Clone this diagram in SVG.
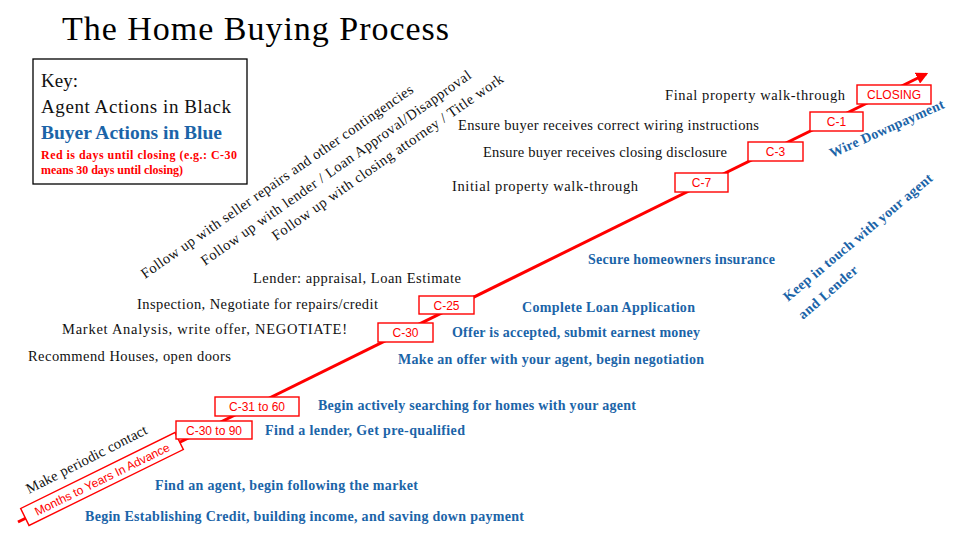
<svg xmlns="http://www.w3.org/2000/svg" width="960" height="540" viewBox="0 0 960 540">
<defs>
<marker id="arr" viewBox="0 0 10 10" refX="8" refY="5" markerWidth="4" markerHeight="4" orient="auto" markerUnits="strokeWidth">
<path d="M0,0 L10,5 L0,10 z" fill="#ff0000"/>
</marker>
</defs>
<style>
text{font-family:"Liberation Serif","Times New Roman",serif}
.ag{font-size:14.5px;fill:#111}
.by{font-size:14px;font-weight:bold;fill:#1b64a8}
.box{fill:#ffffff;stroke:#ff0000;stroke-width:1.4}
.bl{font-family:"Liberation Sans",Arial,sans-serif;font-size:12px;fill:#ff0000;text-anchor:middle}
</style>
<rect width="960" height="540" fill="#ffffff"/>
<text x="62" y="40" font-size="34" fill="#000" textLength="387">The Home Buying Process</text>

<g id="key">
<rect x="33" y="59" width="214" height="125" fill="#fff" stroke="#000" stroke-width="1.3"/>
<text x="41" y="87" font-size="19" fill="#111">Key:</text>
<text x="41" y="113" font-size="19" fill="#111" textLength="190">Agent Actions in Black</text>
<text x="41" y="139" font-size="19.5" font-weight="bold" fill="#1b64a8" textLength="181">Buyer Actions in Blue</text>
<text x="41" y="159" font-size="12" font-weight="bold" fill="#ff0000" textLength="196">Red is days until closing (e.g.: C-30</text>
<text x="41" y="174" font-size="12" font-weight="bold" fill="#ff0000" textLength="142">means 30 days until closing)</text>
</g>

<g id="connectors">
<line x1="18" y1="522" x2="926" y2="74" stroke="#ff0000" stroke-width="3" marker-end="url(#arr)"/>
</g>

<g id="milestones">
<g id="m-months" transform="translate(102,479) rotate(-26.2)">
<rect class="box" x="-86" y="-9.5" width="172" height="19"/>
<text class="bl" x="0" y="4.5">Months to Years In Advance</text>
</g>
<g id="m-c3090"><rect class="box" x="176" y="421" width="76" height="18"/><text class="bl" x="214" y="434.5">C-30 to 90</text></g>
<g id="m-c3160"><rect class="box" x="215" y="397" width="84" height="19"/><text class="bl" x="257" y="411">C-31 to 60</text></g>
<g id="m-c30"><rect class="box" x="378" y="323" width="55" height="19"/><text class="bl" x="405.5" y="337">C-30</text></g>
<g id="m-c25"><rect class="box" x="419" y="296" width="55" height="18"/><text class="bl" x="446.5" y="309.5">C-25</text></g>
<g id="m-c7"><rect class="box" x="675" y="173" width="53" height="19"/><text class="bl" x="701.5" y="187">C-7</text></g>
<g id="m-c3"><rect class="box" x="748" y="142" width="55" height="19"/><text class="bl" x="775.5" y="156">C-3</text></g>
<g id="m-c1"><rect class="box" x="810" y="112" width="53" height="19"/><text class="bl" x="836.5" y="126">C-1</text></g>
<g id="m-closing"><rect class="box" x="857" y="85" width="74" height="19"/><text class="bl" x="894" y="99">CLOSING</text></g>
</g>

<g id="agent">
<text class="ag" x="665" y="100" textLength="180">Final property walk-through</text>
<text class="ag" x="458" y="130" textLength="301">Ensure buyer receives correct wiring instructions</text>
<text class="ag" x="483" y="157" textLength="244">Ensure buyer receives closing disclosure</text>
<text class="ag" x="452" y="191" textLength="186">Initial property walk-through</text>
<text class="ag" x="253" y="283" textLength="208">Lender: appraisal, Loan Estimate</text>
<text class="ag" x="137" y="309" textLength="241">Inspection, Negotiate for repairs/credit</text>
<text class="ag" x="62" y="334" textLength="285">Market Analysis, write offer, NEGOTIATE!</text>
<text class="ag" x="28" y="361" textLength="203">Recommend Houses, open doors</text>
<text class="ag" transform="translate(29,494) rotate(-27)" textLength="134">Make periodic contact</text>
<text class="ag" transform="translate(145,279) rotate(-34.8)" textLength="328">Follow up with seller repairs and other contingencies</text>
<text class="ag" transform="translate(205,266) rotate(-35.2)" textLength="327">Follow up with lender / Loan Approval/Disapproval</text>
<text class="ag" transform="translate(276,241) rotate(-35)" textLength="279">Follow up with closing attorney / Title work</text>
</g>

<g id="buyer">
<text class="by" x="85" y="521" textLength="439">Begin Establishing Credit, building income, and saving down payment</text>
<text class="by" x="155" y="490" textLength="263">Find an agent, begin following the market</text>
<text class="by" x="265" y="435" textLength="200">Find a lender, Get pre-qualified</text>
<text class="by" x="318" y="410" textLength="318">Begin actively searching for homes with your agent</text>
<text class="by" x="398" y="364" textLength="306">Make an offer with your agent, begin negotiation</text>
<text class="by" x="452" y="337" textLength="248">Offer is accepted, submit earnest money</text>
<text class="by" x="522" y="312" textLength="173">Complete Loan Application</text>
<text class="by" x="588" y="264" textLength="187">Secure homeowners insurance</text>
<text class="by" transform="translate(832,158) rotate(-24)" textLength="124">Wire Downpayment</text>
<text class="by" transform="translate(788,302) rotate(-40)" textLength="190">Keep in touch with your agent</text>
<text class="by" transform="translate(803,320) rotate(-41)" textLength="74">and Lender</text>
</g>
</svg>
